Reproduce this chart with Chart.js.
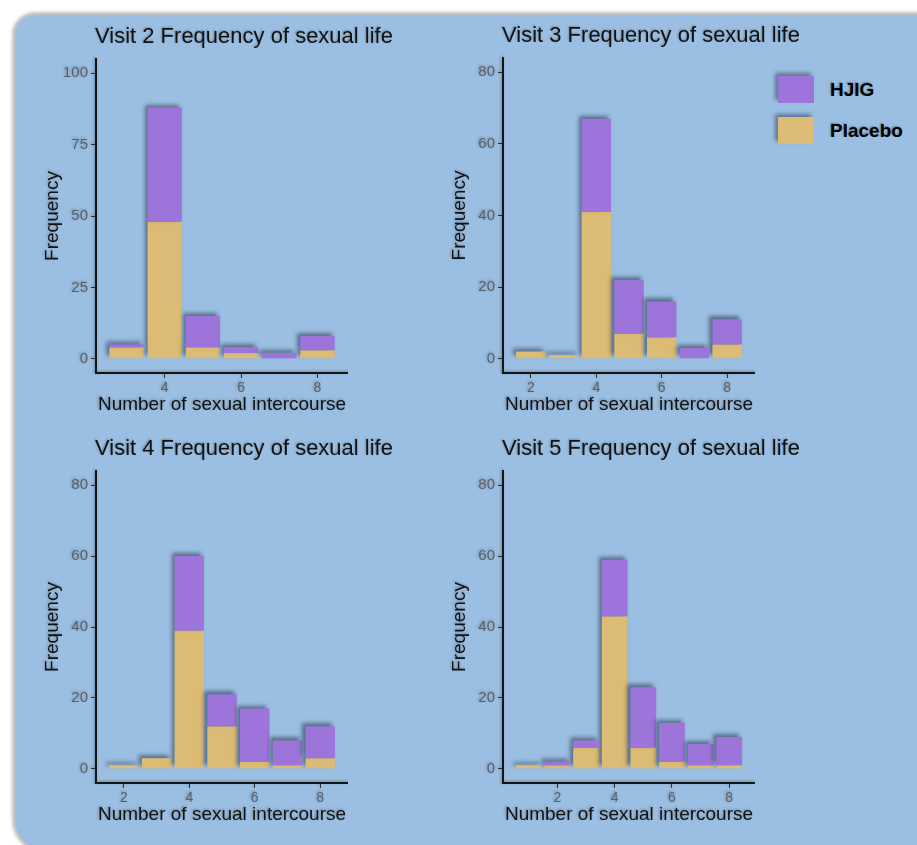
<!DOCTYPE html>
<html>
<head>
<meta charset="utf-8">
<title>Frequency of sexual life</title>
<script src="https://cdn.jsdelivr.net/npm/chart.js@4.4.0/dist/chart.umd.min.js"></script>
<style>
    body {
        margin: 0;
        width: 917px;
        height: 845px;
        overflow: hidden;
        position: relative;
        background: #ffffff;
        font-family: "Liberation Sans", Arial, sans-serif;
    }
    #frame {
        position: absolute;
        left: 13px;
        top: 13px;
        width: 950px;
        height: 835px;
        background: #9bbfe2;
        border: 2px solid #c6c6c6;
        border-radius: 22px 22px 22px 32px;
        box-shadow: 0 0 4px rgba(0, 0, 0, 0.35);
    }
    canvas { position: absolute; }
    .panel-title {
        position: absolute;
        font-size: 22px;
        line-height: 22px;
        color: #111;
        white-space: nowrap;
        text-shadow: -1px -1px 2px rgba(0, 0, 0, 0.25);
    }
    .swatch {
        position: absolute;
        width: 36px;
        height: 27px;
        box-shadow: -3px -3px 4px rgba(20, 30, 50, 0.45);
    }
    .legend-label {
        position: absolute;
        font-size: 19px;
        line-height: 19px;
        font-weight: bold;
        color: #000;
        white-space: nowrap;
        text-shadow: -1px -1px 2px rgba(0, 0, 0, 0.3);
    }
</style>
</head>
<body>
<div id="frame"></div>

<script>
// ========================================
// DATA
// ========================================

const seriesNames = ['HJIG', 'Placebo'];

// Visit 2
const visit2X = [3, 4, 5, 6, 7, 8];
const visit2Placebo = [4, 48, 4, 2, 0, 3];
const visit2Hjig = [1, 40, 11, 2, 2, 5];

// Visit 3
const visit3X = [2, 3, 4, 5, 6, 7, 8];
const visit3Placebo = [2, 1, 41, 7, 6, 0, 4];
const visit3Hjig = [0, 0, 26, 15, 10, 3, 7];

// Visit 4
const visit4X = [2, 3, 4, 5, 6, 7, 8];
const visit4Placebo = [1, 3, 39, 12, 2, 1, 3];
const visit4Hjig = [0, 0, 21, 9, 15, 7, 9];

// Visit 5
const visit5X = [1, 2, 3, 4, 5, 6, 7, 8];
const visit5Placebo = [1, 1, 6, 43, 6, 2, 1, 1];
const visit5Hjig = [0, 1, 2, 16, 17, 11, 6, 8];

// Tick labels
const yTicks100 = [0, 25, 50, 75, 100];
const yTicks80 = [0, 20, 40, 60, 80];
const xTicksVisit2 = [4, 6, 8];
const xTicksEven = [2, 4, 6, 8];

// ========================================
// STYLE
// ========================================

const HJIG_COLOR = '#9d75da';
const PLACEBO_COLOR = '#dcbb74';
const AXIS_COLOR = '#151515';
const TICK_COLOR = '#333333';
const TICK_LABEL_COLOR = '#5c5f66';

Chart.defaults.font.family = '"Liberation Sans", Arial, sans-serif';

// Soft dark shadow like the screenshot effect
const shadowPlugin = {
    id: 'softShadow',
    beforeDraw(chart) {
        const c = chart.ctx;
        c.save();
        c.shadowColor = 'rgba(0, 0, 0, 0.3)';
        c.shadowBlur = 3;
        c.shadowOffsetX = -1;
        c.shadowOffsetY = -1;
    },
    beforeDatasetsDraw(chart) {
        const c = chart.ctx;
        c.save();
        c.shadowColor = 'rgba(20, 30, 50, 0.5)';
        c.shadowBlur = 4;
        c.shadowOffsetX = -3;
        c.shadowOffsetY = -3;
    },
    afterDatasetsDraw(chart) {
        chart.ctx.restore();
    },
    afterDraw(chart) {
        chart.ctx.restore();
    }
};

// ========================================
// PANELS
// ========================================

function buildPanel(cfg) {
    const canvasLeft = cfg.areaLeft - 66;
    const canvasTop = cfg.areaTop - 10;

    const canvas = document.createElement('canvas');
    canvas.width = 318;
    canvas.height = cfg.areaBottom + 43 - canvasTop;
    canvas.style.left = canvasLeft + 'px';
    canvas.style.top = canvasTop + 'px';
    document.body.appendChild(canvas);

    const title = document.createElement('div');
    title.className = 'panel-title';
    title.textContent = cfg.title;
    title.style.left = (cfg.areaLeft - 1) + 'px';
    title.style.top = (cfg.areaTop - 32) + 'px';
    document.body.appendChild(title);

    new Chart(canvas.getContext('2d'), {
        type: 'bar',
        data: {
            datasets: [
                {
                    label: seriesNames[0],
                    data: cfg.x.map((x, i) => ({ x: x, y: [cfg.placebo[i], cfg.placebo[i] + cfg.hjig[i]] })),
                    backgroundColor: HJIG_COLOR,
                    grouped: false
                },
                {
                    label: seriesNames[1],
                    data: cfg.x.map((x, i) => ({ x: x, y: cfg.placebo[i] })),
                    backgroundColor: PLACEBO_COLOR,
                    grouped: false
                }
            ]
        },
        options: {
            responsive: false,
            animation: false,
            layout: { padding: { top: 10, left: 0, right: 0, bottom: 0 } },
            datasets: { bar: { barPercentage: 0.9, categoryPercentage: 1 } },
            plugins: {
                legend: { display: false },
                title: { display: false },
                tooltip: { enabled: false }
            },
            scales: {
                x: {
                    type: 'linear',
                    min: cfg.xMin,
                    max: cfg.xMax,
                    offset: false,
                    afterBuildTicks: axis => { axis.ticks = cfg.xTicks.map(v => ({ value: v })); },
                    afterFit: axis => { axis.height = 43; },
                    grid: { display: true, offset: false, drawOnChartArea: false, drawTicks: true, tickLength: 5, color: TICK_COLOR },
                    border: { display: true, color: AXIS_COLOR, width: 2 },
                    ticks: { font: { size: 14 }, color: TICK_LABEL_COLOR, padding: 2, maxRotation: 0, autoSkip: false },
                    title: { display: true, text: 'Number of sexual intercourse', font: { size: 19 }, color: '#111', padding: 0 }
                },
                y: {
                    type: 'linear',
                    min: cfg.yMin,
                    max: cfg.yMax,
                    afterBuildTicks: axis => { axis.ticks = cfg.yTicks.map(v => ({ value: v })); },
                    afterFit: axis => { axis.width = 66; },
                    grid: { display: true, drawOnChartArea: false, drawTicks: true, tickLength: 5, color: TICK_COLOR },
                    border: { display: true, color: AXIS_COLOR, width: 2 },
                    ticks: { font: { size: 15 }, color: TICK_LABEL_COLOR, padding: 3, autoSkip: false },
                    title: { display: true, text: 'Frequency', font: { size: 19 }, color: '#111', padding: { top: 11, bottom: 0 } }
                }
            }
        },
        plugins: [shadowPlugin]
    });
}

buildPanel({
    title: 'Visit 2 Frequency of sexual life',
    x: visit2X, placebo: visit2Placebo, hjig: visit2Hjig,
    xMin: 2.2, xMax: 8.8, xTicks: xTicksVisit2,
    yMin: -5, yMax: 105, yTicks: yTicks100,
    areaLeft: 96, areaTop: 57, areaBottom: 373
});

buildPanel({
    title: 'Visit 3 Frequency of sexual life',
    x: visit3X, placebo: visit3Placebo, hjig: visit3Hjig,
    xMin: 1.15, xMax: 8.85, xTicks: xTicksEven,
    yMin: -4, yMax: 84, yTicks: yTicks80,
    areaLeft: 503, areaTop: 56, areaBottom: 373
});

buildPanel({
    title: 'Visit 4 Frequency of sexual life',
    x: visit4X, placebo: visit4Placebo, hjig: visit4Hjig,
    xMin: 1.15, xMax: 8.85, xTicks: xTicksEven,
    yMin: -4, yMax: 84, yTicks: yTicks80,
    areaLeft: 96, areaTop: 469, areaBottom: 783
});

buildPanel({
    title: 'Visit 5 Frequency of sexual life',
    x: visit5X, placebo: visit5Placebo, hjig: visit5Hjig,
    xMin: 0.1, xMax: 8.9, xTicks: xTicksEven,
    yMin: -4, yMax: 84, yTicks: yTicks80,
    areaLeft: 503, areaTop: 469, areaBottom: 783
});

// ========================================
// LEGEND
// ========================================

const legendColors = [HJIG_COLOR, PLACEBO_COLOR];
const legendTops = [76, 117];

seriesNames.forEach((name, i) => {
    const swatch = document.createElement('div');
    swatch.className = 'swatch';
    swatch.style.left = '778px';
    swatch.style.top = legendTops[i] + 'px';
    swatch.style.background = legendColors[i];
    document.body.appendChild(swatch);

    const label = document.createElement('div');
    label.className = 'legend-label';
    label.textContent = name;
    label.style.left = '830px';
    label.style.top = (legendTops[i] + 4) + 'px';
    document.body.appendChild(label);
});
</script>
</body>
</html>
